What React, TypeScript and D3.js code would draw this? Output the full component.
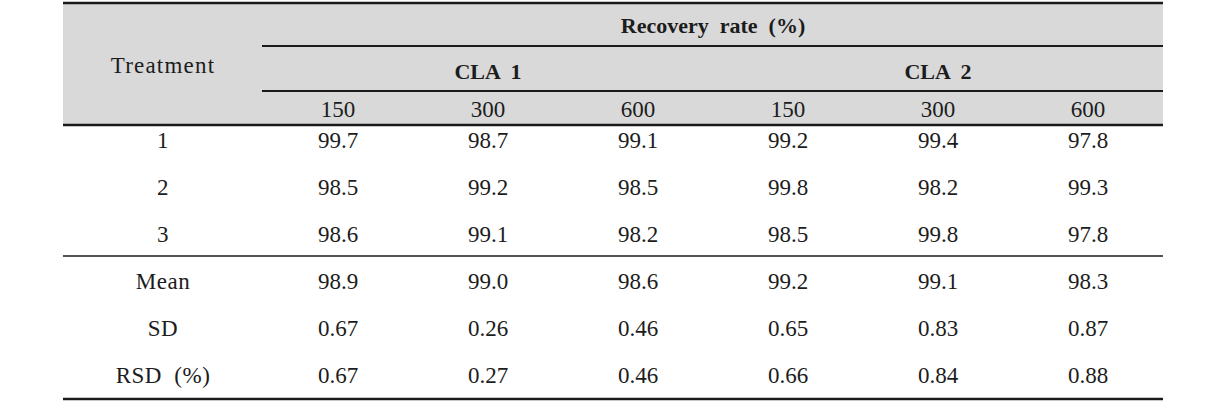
import React from "react";
import * as d3 from "d3";

const treatments = ["1", "2", "3", "Mean", "SD", "RSD  (%)"];
const groups = ["CLA 1", "CLA 2"];
const concentrations = ["150", "300", "600"];
const cla1_150 = ["99.7", "98.5", "98.6", "98.9", "0.67", "0.67"];
const cla1_300 = ["98.7", "99.2", "99.1", "99.0", "0.26", "0.27"];
const cla1_600 = ["99.1", "98.5", "98.2", "98.6", "0.46", "0.46"];
const cla2_150 = ["99.2", "99.8", "98.5", "99.2", "0.65", "0.66"];
const cla2_300 = ["99.4", "98.2", "99.8", "99.1", "0.83", "0.84"];
const cla2_600 = ["97.8", "99.3", "97.8", "98.3", "0.87", "0.88"];
const columns = [cla1_150, cla1_300, cla1_600, cla2_150, cla2_300, cla2_600];
const title = "Recovery  rate  (%)";
const firstHeader = "Treatment";

const W = 1225;
const H = 418;
const left = 63;
const right = 1163;
const spanLeft = 262;
const font = "'Liberation Serif', 'Times New Roman', serif";
const textColor = "#1c1c1c";
const lineColor = "#1a1a1a";

export default function App() {
  const x = d3.scaleLinear().domain([0, columns.length - 1]).range([338, 1088]);
  const xTreat = 163;
  const y = d3.scalePoint<string>().domain(treatments).range([148, 383]);
  const groupX = (g: number) => x(g * 3 + 1);

  const hLines = [
    { y: 3, x1: left, w: 2.5 },
    { y: 46, x1: spanLeft, w: 2 },
    { y: 91, x1: spanLeft, w: 2 },
    { y: 125, x1: left, w: 2.5 },
    { y: 256, x1: left, w: 1.5 },
    { y: 399, x1: left, w: 2.5 },
  ];

  return (
    <svg width={W} height={H} style={{ position: "absolute", left: 0, top: 0, background: "#fff" }}>
      <rect x={left} y={3} width={right - left} height={122} fill="#d9d9d9" />
      {hLines.map((l, i) => (
        <line key={i} x1={l.x1} x2={right} y1={l.y} y2={l.y} stroke={lineColor} strokeWidth={l.w} />
      ))}
      <g fontFamily={font} fill={textColor} textAnchor="middle" fontSize={23}>
        <text x={xTreat} y={73} style={{ letterSpacing: "1.2px" }}>{firstHeader}</text>
        <text x={(x(0) + x(5)) / 2} y={33} fontWeight="bold" fontSize={22} style={{ whiteSpace: "pre" }}>{title}</text>
        {groups.map((g, gi) => (
          <text key={g} x={groupX(gi)} y={79} fontWeight="bold" fontSize={22} style={{ whiteSpace: "pre" }}>
            {g.replace(" ", "  ")}
          </text>
        ))}
        {columns.map((_, ci) => (
          <text key={"c" + ci} x={x(ci)} y={117}>
            {concentrations[ci % 3]}
          </text>
        ))}
        {treatments.map((t) => (
          <text key={"t" + t} x={xTreat} y={y(t)} style={{ whiteSpace: "pre", letterSpacing: "0.5px" }}>
            {t}
          </text>
        ))}
        {columns.map((col, ci) =>
          col.map((v, ri) => (
            <text key={ci + "-" + ri} x={x(ci)} y={y(treatments[ri])}>
              {v}
            </text>
          ))
        )}
      </g>
    </svg>
  );
}
